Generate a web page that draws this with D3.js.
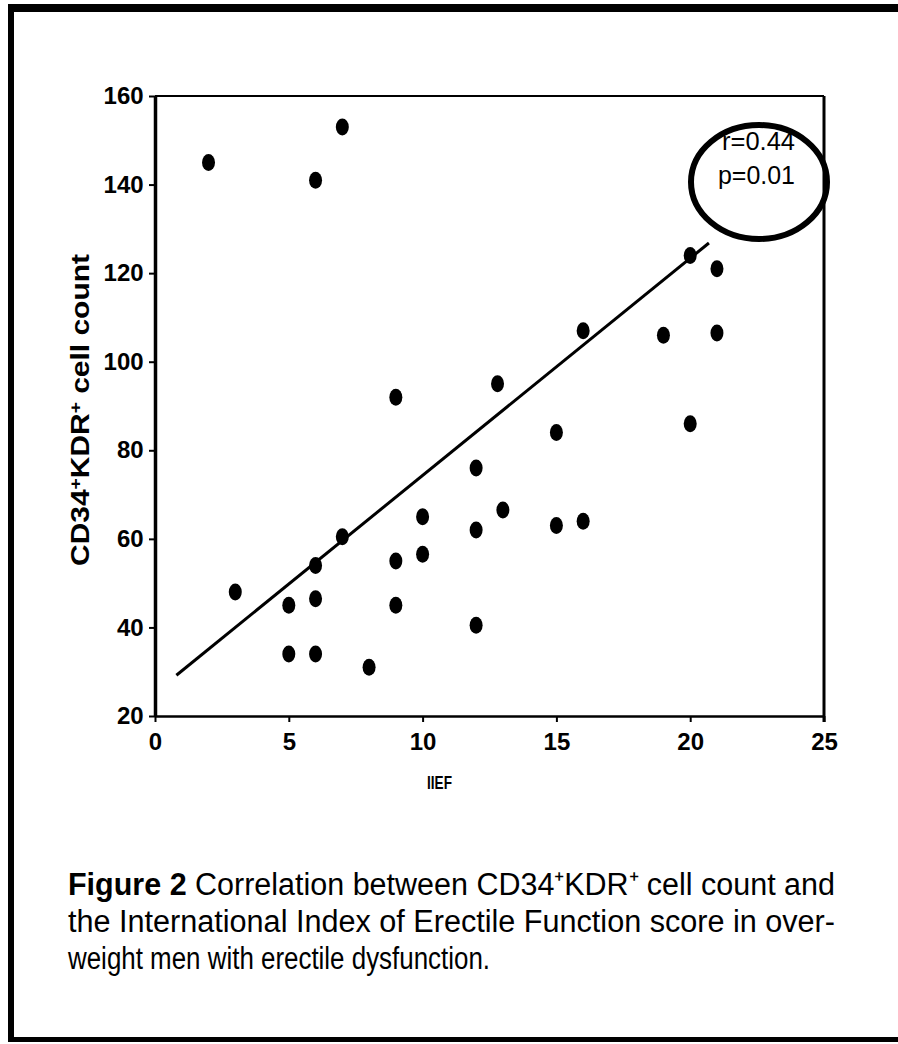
<!DOCTYPE html>
<html>
<head>
<meta charset="utf-8">
<script src="https://cdn.jsdelivr.net/npm/d3@7"></script>
<style>
  body { margin: 0; background: #fff; }
  svg { display: block; }
</style>
</head>
<body>
<svg id="chart" width="898" height="1044"></svg>
<script>
// IIEF score vs CD34+KDR+ cell count
var iiefScores = [2, 6, 7, 3, 5, 5, 6, 6, 6, 7, 8, 9, 9, 9, 10, 10, 12, 12, 12, 12.8, 13, 15, 15, 16, 16, 19, 20, 20, 21, 21];
var cellCounts = [145, 141, 153, 48, 45, 34, 46.5, 54, 34, 60.5, 31, 55, 45, 92, 65, 56.5, 76, 62, 40.5, 95, 66.5, 84, 63, 107, 64, 106, 124, 86, 121, 106.5];

// fitted line, both ends as drawn
var fitX = [0.8, 20.7];
var fitY = [29.2, 126.8];

var xTicks = [0, 5, 10, 15, 20, 25];
var yTicks = [20, 40, 60, 80, 100, 120, 140, 160];

var statLines = ["r=0.44", "p=0.01"];
var captionLines = [
    ["Figure 2", " Correlation between CD34\u207AKDR\u207A cell count and"],
    ["", "the International Index of Erectile Function score in over-"],
    ["", "weight men with erectile dysfunction."]
];

var svg = d3.select("#chart");

// page frame of the scan
svg.append("rect").attr("x", 8).attr("y", 4).attr("width", 890).attr("height", 8).attr("fill", "#000");
svg.append("rect").attr("x", 8).attr("y", 4).attr("width", 6).attr("height", 1038).attr("fill", "#000");
svg.append("rect").attr("x", 8).attr("y", 1037).attr("width", 890).attr("height", 5).attr("fill", "#000");

var x = d3.scaleLinear().domain([0, 25]).range([155, 824]);
var y = d3.scaleLinear().domain([20, 160]).range([716, 96]);

var tickFont = "'Liberation Sans', Arial, sans-serif";

// axes
var xAxis = svg.append("g")
    .attr("transform", "translate(0," + y(20) + ")")
    .call(d3.axisBottom(x).tickValues(xTicks).tickSize(6).tickSizeOuter(0));
xAxis.select(".domain").attr("stroke-width", 2.5);
xAxis.selectAll(".tick line").attr("stroke-width", 2);
xAxis.selectAll(".tick text")
    .attr("font-family", tickFont)
    .attr("font-weight", "bold")
    .attr("font-size", 24)
    .attr("dy", "1.05em");

var yAxis = svg.append("g")
    .attr("transform", "translate(" + x(0) + ",0)")
    .call(d3.axisLeft(y).tickValues(yTicks).tickSize(6).tickSizeOuter(0));
yAxis.select(".domain").attr("stroke-width", 3.5);
yAxis.selectAll(".tick line").attr("stroke-width", 2);
yAxis.selectAll(".tick text")
    .attr("font-family", tickFont)
    .attr("font-weight", "bold")
    .attr("font-size", 24)
    .attr("dx", "-0.1em");

// top and right frame of the plot
svg.append("line")
    .attr("x1", x(0)).attr("x2", x(25))
    .attr("y1", y(160)).attr("y2", y(160))
    .attr("stroke", "#000").attr("stroke-width", 2);
svg.append("line")
    .attr("x1", x(25)).attr("x2", x(25))
    .attr("y1", y(160)).attr("y2", y(20) + 6)
    .attr("stroke", "#000").attr("stroke-width", 3);

// axis titles
svg.append("text")
    .attr("x", (x(0) + x(25)) / 2 - 50)
    .attr("y", 789)
    .attr("text-anchor", "middle")
    .attr("font-family", tickFont)
    .attr("font-weight", "bold")
    .attr("font-size", 18)
    .attr("textLength", 25)
    .attr("lengthAdjust", "spacingAndGlyphs")
    .text("IIEF");

var yTitle = svg.append("text")
    .attr("transform", "translate(89,410) rotate(-90)")
    .attr("text-anchor", "middle")
    .attr("font-family", tickFont)
    .attr("font-weight", "bold")
    .attr("font-size", 25)
    .attr("textLength", 312)
    .attr("lengthAdjust", "spacingAndGlyphs");
yTitle.append("tspan").text("CD34");
yTitle.append("tspan").attr("baseline-shift", "super").attr("font-size", 16).text("+");
yTitle.append("tspan").text("KDR");
yTitle.append("tspan").attr("baseline-shift", "super").attr("font-size", 16).text("+");
yTitle.append("tspan").text(" cell count");

// regression line
var line = d3.line()
    .x(function (d) { return x(d[0]); })
    .y(function (d) { return y(d[1]); });
svg.append("path")
    .datum(d3.zip(fitX, fitY))
    .attr("d", line)
    .attr("fill", "none")
    .attr("stroke", "#000")
    .attr("stroke-width", 3);

// points
svg.append("g")
    .selectAll("ellipse")
    .data(d3.zip(iiefScores, cellCounts))
    .enter()
    .append("ellipse")
    .attr("cx", function (d) { return x(d[0]); })
    .attr("cy", function (d) { return y(d[1]); })
    .attr("rx", 6.5)
    .attr("ry", 8.5)
    .attr("fill", "#000");

// r and p values with the hand drawn ring
svg.append("g")
    .selectAll("text")
    .data(statLines)
    .enter()
    .append("text")
    .attr("x", function (d, i) { return i === 0 ? 722 : 718; })
    .attr("y", function (d, i) { return 150 + i * 34; })
    .attr("font-family", tickFont)
    .attr("font-size", 25)
    .attr("textLength", function (d, i) { return i === 0 ? 73 : 77; })
    .attr("lengthAdjust", "spacingAndGlyphs")
    .text(function (d) { return d; });

svg.append("ellipse")
    .attr("cx", 759).attr("cy", 182)
    .attr("rx", 68).attr("ry", 57)
    .attr("fill", "none")
    .attr("stroke", "#000")
    .attr("stroke-width", 6);

// caption
var captionWidths = [767, 767, 422];
var caption = svg.append("g")
    .attr("font-family", tickFont)
    .attr("font-size", 31);
captionLines.forEach(function (c, i) {
    var t = caption.append("text")
        .attr("x", 68)
        .attr("y", 895 + i * 37)
        .attr("textLength", captionWidths[i])
        .attr("lengthAdjust", "spacingAndGlyphs");
    if (c[0]) t.append("tspan").attr("font-weight", "bold").text(c[0]);
    t.append("tspan").text(c[1]);
});
</script>
</body>
</html>
